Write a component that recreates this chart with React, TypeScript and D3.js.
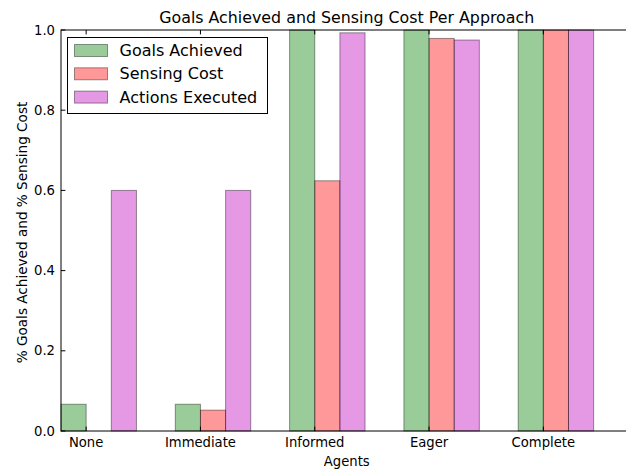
import React from "react";
import * as d3 from "d3";

const categories = ["None", "Immediate", "Informed", "Eager", "Complete"];
const seriesNames = ["Goals Achieved", "Sensing Cost", "Actions Executed"];
const goalsAchieved = [0.0667, 0.0667, 1.0, 1.0, 1.0];
const sensingCost = [0.0, 0.052, 0.624, 0.979, 1.0];
const actionsExecuted = [0.6, 0.6, 0.993, 0.975, 1.0];
const yTicks = [0, 0.2, 0.4, 0.6, 0.8, 1.0];
const seriesColors = ["#008000", "#ff0000", "#bf00bf"];

const W = 626;
const H = 470;
const M = { left: 61, right: 632.5, top: 30, bottom: 431 };
const BAR_W = 0.22;
const FONT = "'DejaVu Sans', sans-serif";

export default function App() {
  const x = d3.scaleLinear().domain([0, 5]).range([M.left, M.right]);
  const y = d3.scaleLinear().domain([0, 1]).range([M.bottom, M.top]);
  const series = [goalsAchieved, sensingCost, actionsExecuted];
  const bw = x(BAR_W) - x(0);
  const tickLen = 4.4;

  return (
    <svg
      width={W}
      height={H}
      style={{ position: "absolute", left: 0, top: 0, background: "#fff" }}
      fontFamily={FONT}
    >
      {/* bars */}
      <g>
        {series.map((vals, si) =>
          vals.map((v, i) => {
            const x0 = x(i + si * BAR_W);
            const y0 = y(v);
            return (
              <rect
                key={`${si}-${i}`}
                x={x0}
                y={y0}
                width={bw}
                height={y(0) - y0}
                fill={seriesColors[si]}
                fillOpacity={0.4}
                stroke="#000"
                strokeOpacity={0.4}
                strokeWidth={1}
              />
            );
          })
        )}
      </g>
      {/* frame */}
      <rect
        x={M.left}
        y={M.top}
        width={M.right - M.left}
        height={M.bottom - M.top}
        fill="none"
        stroke="#000"
        strokeWidth={1}
      />
      {/* y ticks */}
      {yTicks.map((t) => (
        <g key={`y${t}`}>
          <line x1={M.left} x2={M.left + tickLen} y1={y(t)} y2={y(t)} stroke="#000" />
          <line x1={M.right} x2={M.right - tickLen} y1={y(t)} y2={y(t)} stroke="#000" />
          <text
            x={M.left - 6}
            y={y(t)}
            textAnchor="end"
            dominantBaseline="central"
            fontSize={13.2}
            fill="#000"
          >
            {d3.format(".1f")(t)}
          </text>
        </g>
      ))}
      {/* x ticks */}
      {categories.map((c, i) => (
        <g key={c}>
          <line x1={x(i + BAR_W)} x2={x(i + BAR_W)} y1={M.bottom} y2={M.bottom - tickLen} stroke="#000" />
          <line x1={x(i + BAR_W)} x2={x(i + BAR_W)} y1={M.top} y2={M.top + tickLen} stroke="#000" />
          <text x={x(i + BAR_W)} y={M.bottom + 16} textAnchor="middle" fontSize={13.2} fill="#000">
            {c}
          </text>
        </g>
      ))}
      {/* title */}
      <text x={(M.left + M.right) / 2} y={23} textAnchor="middle" fontSize={15.84} fill="#000">
        Goals Achieved and Sensing Cost Per Approach
      </text>
      {/* axis labels */}
      <text x={(M.left + M.right) / 2} y={466} textAnchor="middle" fontSize={13.2} fill="#000">
        Agents
      </text>
      <text
        transform={`translate(27, ${(M.top + M.bottom) / 2 + 2}) rotate(-90)`}
        textAnchor="middle"
        fontSize={13.6}
        fill="#000"
      >
        % Goals Achieved and % Sensing Cost
      </text>
      {/* legend */}
      <g>
        <rect x={67.5} y={37.5} width={200} height={76} fill="#fff" stroke="#000" strokeWidth={1} />
        {seriesNames.map((n, i) => {
          const cy = 50.5 + i * 23.3;
          return (
            <g key={n}>
              <rect
                x={74.5}
                y={cy - 6}
                width={33}
                height={12}
                fill={seriesColors[i]}
                fillOpacity={0.4}
                stroke="#000"
                strokeOpacity={0.4}
              />
              <text x={119.5} y={cy} dominantBaseline="central" fontSize={16} fill="#000">
                {n}
              </text>
            </g>
          );
        })}
      </g>
    </svg>
  );
}
